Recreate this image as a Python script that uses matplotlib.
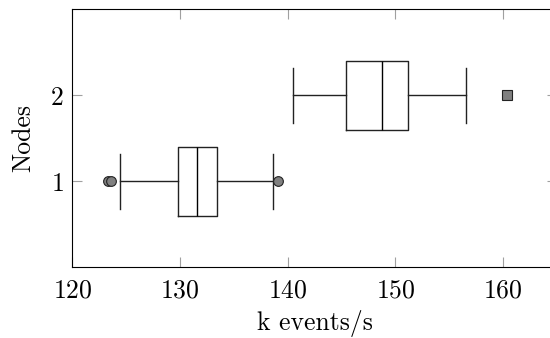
import matplotlib
matplotlib.use("Agg")
import matplotlib.pyplot as plt

plt.rcParams['font.family'] = 'serif'
plt.rcParams['font.serif'] = ['cmr10']
plt.rcParams['axes.formatter.use_mathtext'] = True
plt.rcParams['font.size'] = 18.5

# Box statistics (k events/s)
nodes = [1, 2]
whisker_low = [124.44, 140.52]
q1 = [129.77, 145.46]
median = [131.59, 148.74]
q3 = [133.41, 151.20]
whisker_high = [138.67, 156.54]
outliers = [[123.31, 123.63, 139.06], [160.40]]
outlier_marker = ['o', 's']

fig = plt.figure(figsize=(5.5, 3.38), dpi=100)
ax = fig.add_axes([0.1315, 0.209, 0.881, 0.763])

line = dict(color='#222222', linewidth=1.0)
for i, n in enumerate(nodes):
    stats = [{
        'whislo': whisker_low[i], 'q1': q1[i], 'med': median[i],
        'q3': q3[i], 'whishi': whisker_high[i], 'fliers': outliers[i],
    }]
    ax.bxp(stats, positions=[n], widths=0.8, capwidths=0.64, vert=False,
           boxprops=line, whiskerprops=line, capprops=line,
           medianprops=dict(color='black', linewidth=1.0),
           flierprops=dict(marker=outlier_marker[i], markersize=7,
                           markerfacecolor='#808080', markeredgecolor='#222222',
                           markeredgewidth=0.8, linestyle='none'),
           manage_ticks=False)

ax.set_xlim(120, 165)
ax.set_ylim(0, 3)
ax.set_xticks([120, 130, 140, 150, 160])
ax.set_yticks(nodes)
ax.set_xlabel('k events/s', labelpad=5.5)
ax.set_ylabel('Nodes', labelpad=11)

ax.tick_params(direction='in', length=7.5, width=0.8, color='#a0a0a0',
               top=True, right=True)
ax.tick_params(axis='x', pad=8)
ax.tick_params(axis='y', pad=6)
for s in ax.spines.values():
    s.set_linewidth(0.8)

fig.savefig('out.png', dpi=100)
